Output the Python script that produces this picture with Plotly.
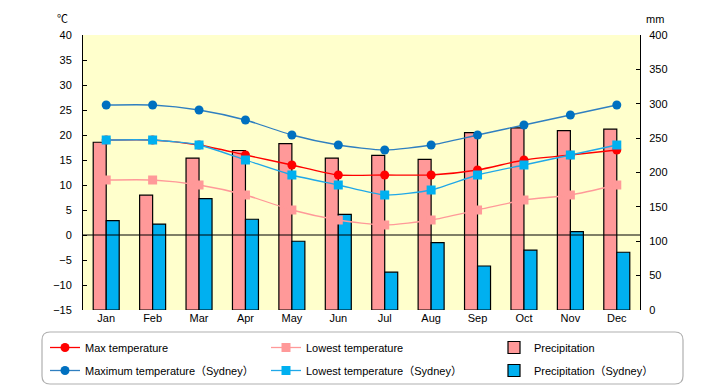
import plotly.graph_objects as go

months = ["Jan", "Feb", "Mar", "Apr", "May", "Jun", "Jul", "Aug", "Sep", "Oct", "Nov", "Dec"]
max_temp = [19, 19, 18, 16, 14, 12, 12, 12, 13, 15, 16, 17]
low_temp = [11, 11, 10, 8, 5, 3, 2, 3, 5, 7, 8, 10]
precip = [244, 167, 221, 232, 242, 221, 225, 219, 258, 265, 261, 263]
max_syd = [26, 26, 25, 23, 20, 18, 17, 18, 20, 22, 24, 26]
low_syd = [19, 19, 18, 15, 12, 10, 8, 9, 12, 14, 16, 18]
precip_syd = [130, 125, 162, 132, 100, 139, 55, 98, 64, 87, 114, 84]

left_ticks = list(range(-15, 41, 5))
right_ticks = list(range(0, 401, 50))

FONT = "Liberation Sans, Noto Sans CJK JP, sans-serif"

fig = go.Figure()

def line_trace(name, vals, color, lcolor, symbol, legend, group):
    return go.Scatter(
        x=months, y=vals, name=name, yaxis="y2", mode="lines+markers",
        line=dict(color=lcolor, width=1.3, shape="spline", smoothing=0.6),
        marker=dict(color=color, size=9, symbol=symbol, line=dict(width=0)),
        legend=legend, legendgroup=group,
    )

fig.add_trace(line_trace("Max temperature", max_temp, "#FF0000", "#FF0000", "circle", "legend", "a"))
fig.add_trace(line_trace("Lowest temperature", low_temp, "#FF9999", "#FF9999", "square", "legend2", "b"))
fig.add_trace(go.Bar(x=months, y=precip, name="Precipitation", yaxis="y",
                     marker=dict(color="#FF9999", line=dict(color="black", width=1.2)),
                     legend="legend3", legendgroup="c"))
fig.add_trace(line_trace("Maximum temperature（Sydney）", max_syd, "#0070C0", "#2F7FC0", "circle", "legend", "d"))
fig.add_trace(line_trace("Lowest temperature（Sydney）", low_syd, "#00B0F0", "#20A8E8", "square", "legend2", "e"))
fig.add_trace(go.Bar(x=months, y=precip_syd, name="Precipitation（Sydney）", yaxis="y",
                     marker=dict(color="#00B0F0", line=dict(color="black", width=1.2)),
                     legend="legend3", legendgroup="f"))

L, R, T, B = 83, 80, 35, 75
W, H = 720, 385
pw, ph = W - L - R, H - T - B

def px_x(p):
    return (p - L) / pw

def px_y(p):
    return (H - B - p) / ph

legend_common = dict(orientation="v", yanchor="top", xanchor="left",
                     font=dict(family=FONT, size=11, color="black"),
                     bgcolor="rgba(0,0,0,0)", borderwidth=0, tracegroupgap=4,
                     itemwidth=30)

fig.update_layout(
    width=W, height=H,
    margin=dict(l=L, r=R, t=T, b=B, autoexpand=False),
    paper_bgcolor="white",
    plot_bgcolor="#FFFFCC",
    barmode="group", bargap=0.44, bargroupgap=0,
    font=dict(family=FONT, size=11, color="black"),
    xaxis=dict(showgrid=False, showline=False, ticks="", tickfont=dict(size=11),
               range=[-0.5, len(months) - 0.5]),
    yaxis=dict(side="right", range=[0, 400], tickvals=right_ticks, showgrid=False,
               showline=True, linecolor="black", linewidth=1, ticks="inside", ticklen=4,
               tickcolor="black", zeroline=False, ticklabelstandoff=6),
    yaxis2=dict(side="left", overlaying="y", range=[-15, 40], tickvals=left_ticks,
                showgrid=False, showline=True, linecolor="black", linewidth=1,
                ticks="inside", ticklen=4, tickcolor="black", zeroline=False,
                ticklabelstandoff=8),
    legend=dict(x=px_x(45), y=px_y(333), **legend_common),
    legend2=dict(x=px_x(266), y=px_y(333), **legend_common),
    legend3=dict(x=px_x(494), y=px_y(333), **legend_common),
    showlegend=True,
)

# zero line of the temperature axis
fig.add_shape(type="line", xref="paper", yref="y2", x0=0, x1=1, y0=0, y1=0,
              line=dict(color="black", width=1.2), layer="above")

# rounded legend box
x0, x1 = px_x(42), px_x(683)
y0, y1 = px_y(384), px_y(332)
rx, ry = 8 / pw, 8 / ph
path = (f"M {x0+rx},{y1} L {x1-rx},{y1} Q {x1},{y1} {x1},{y1-ry} "
        f"L {x1},{y0+ry} Q {x1},{y0} {x1-rx},{y0} L {x0+rx},{y0} "
        f"Q {x0},{y0} {x0},{y0+ry} L {x0},{y1-ry} Q {x0},{y1} {x0+rx},{y1} Z")
fig.add_shape(type="path", xref="paper", yref="paper", path=path,
              line=dict(color="#B0B0B0", width=1.2), fillcolor="rgba(0,0,0,0)")

fig.add_annotation(text="℃", x=px_x(55), y=px_y(11), xref="paper", yref="paper",
                   showarrow=False, font=dict(size=11))
fig.add_annotation(text="mm", x=px_x(666), y=px_y(11), xref="paper", yref="paper",
                   showarrow=False, font=dict(size=11))

fig.write_html("out.html", config={"displayModeBar": False},
               post_script="document.body.style.margin='0';document.body.style.padding='0';")
